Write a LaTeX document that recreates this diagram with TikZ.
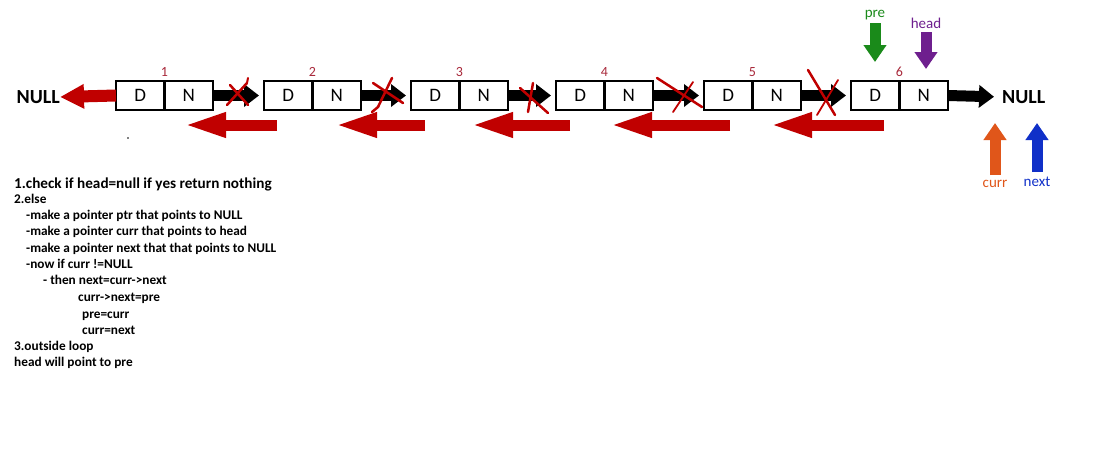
\documentclass[tikz,border=0pt]{standalone}
\usepackage{fontspec}
\setmainfont{Carlito}
\usetikzlibrary{arrows.meta}
\definecolor{arrred}{HTML}{C00000}
\definecolor{numred}{HTML}{A8283A}
\definecolor{pgreen}{HTML}{1A8A1A}
\definecolor{ppurple}{HTML}{6E1F8E}
\definecolor{porange}{HTML}{E0561A}
\definecolor{pblue}{HTML}{1030C8}
\begin{document}
\begin{tikzpicture}[x=1pt,y=-1pt,
  cell/.style={draw, line width=1.5pt, minimum width=48.5pt, minimum height=29pt, inner sep=0pt, outer sep=0pt, font=\fontsize{19}{19}\selectfont},
  blk/.style={line width=11pt, -{Triangle[length=15pt,width=22pt]}, shorten >=5pt},
  redarr/.style={arrred, line width=11pt, -{Triangle[length=44pt,width=22pt]}},
  redleft/.style={arrred, line width=12pt, -{Triangle[length=24pt,width=23pt]}},
  ptr/.style={line width=11pt, -{Triangle[length=17pt,width=22pt]}},
  cross/.style={arrred, line width=2.5pt, line cap=round},
  num/.style={numred, font=\fontsize{14}{14}\selectfont},
  plabel/.style={inner sep=1pt, font=\fontsize{15}{15}\selectfont},
  nulltxt/.style={inner sep=0pt, font=\bfseries\fontsize{20}{20}\selectfont},
  txt/.style={anchor=base west, inner sep=0pt, font=\bfseries\fontsize{13.3}{14}\selectfont},
  txtbig/.style={anchor=base west, inner sep=0pt, font=\bfseries\fontsize{15.2}{16}\selectfont},
]
\useasboundingbox (0,0) rectangle (1100,464);

% list cells
\foreach \i/\x in {1/116,2/264,3/411,4/556,5/704,6/851}{
  \node[cell] (d\i) at (\x+24.25,95.5) {D};
  \node[cell] (n\i) at (\x+72.75,95.5) {N};
  \draw[line width=3pt] (d\i.north east) -- (d\i.south east);
  \node[num] (num\i) at (\x+48.5,72) {\i};
}

% NULL labels
\node[nulltxt, anchor=east] (lnull) at (60,97) {NULL};
\node[nulltxt, anchor=west] (rnull) at (1002,97) {NULL};

% black next arrows
\draw[blk] (n1.east) -- (d2.west);
\draw[blk] (n2.east) -- (d3.west);
\draw[blk] (n3.east) -- (d4.west);
\draw[blk] (n4.east) -- (d5.west);
\draw[blk] (n5.east) -- (d6.west);
\draw[blk, shorten >=8pt] (n6.east) -- (rnull.west);

% red reversed arrows
\draw[redleft] (d1.west) -- (lnull.east);
\foreach \k/\a/\b in {1/277/182,2/425/333,3/570/469,4/730/608,5/884/768}{
  \coordinate (rs\k) at (\a,125);
  \coordinate (re\k) at (\b,125);
  \draw[redarr] (rs\k) -- (re\k);
}

% red crosses
\draw[cross] (227,105) -- (247,83);
\draw[cross] (230,85) -- (248,105);
\draw[cross, line width=2pt] (248,78) -- (247,83);
\draw[cross] (373,83) -- (403,103);
\draw[cross] (392,78) -- (378,107) -- (372,112);
\draw[cross] (520,88) -- (548,113);
\draw[cross] (533,83) -- (528,112);
\draw[cross] (657,78) -- (702,107);
\draw[cross, line width=1.8pt] (693,82) -- (673,112);
\draw[cross] (808,70) -- (835,115);
\draw[cross, line width=1.8pt] (838,80) -- (817,115);

% pointers
\node[plabel, text=pgreen] (lpre) at (875,15) {pre};
\coordinate (ppre) at (875,62);
\draw[ptr, pgreen] (875,23) -- (ppre);
\node[plabel, text=ppurple] (lhead) at (926,23) {head};
\coordinate (phead) at (926,69);
\draw[ptr, ppurple] (926,32) -- (phead);
\node[plabel, text=porange] (lcurr) at (995,184) {curr};
\coordinate (pcurr) at (995,123);
\draw[ptr, porange] (995,175) -- (pcurr);
\node[plabel, text=pblue] (lnext) at (1037,182) {next};
\coordinate (pnext) at (1037,123);
\draw[ptr, pblue] (1037,172) -- (pnext);

% stray dot
\fill (128,138) circle (0.8);

% algorithm text
\node[txtbig] (t1) at (14,188) {1.check if head=null if yes return nothing};
\node[txt] (t2) at (14,203) {2.else};
\node[txt] (t3) at (26,219) {-make a pointer ptr that points to NULL};
\node[txt] (t4) at (26,235) {-make a pointer curr that points to head};
\node[txt] (t5) at (26,252) {-make a pointer next that that points to NULL};
\node[txt] (t6) at (26,268) {-now if curr !=NULL};
\node[txt] (t7) at (43,284) {- then next=curr->next};
\node[txt] (t8) at (78,301) {curr->next=pre};
\node[txt] (t9) at (82,318) {pre=curr};
\node[txt] (t10) at (82,334) {curr=next};
\node[txt] (t11) at (14,350) {3.outside loop};
\node[txt] (t12) at (14,366) {head will point to pre};
\end{tikzpicture}
\end{document}
